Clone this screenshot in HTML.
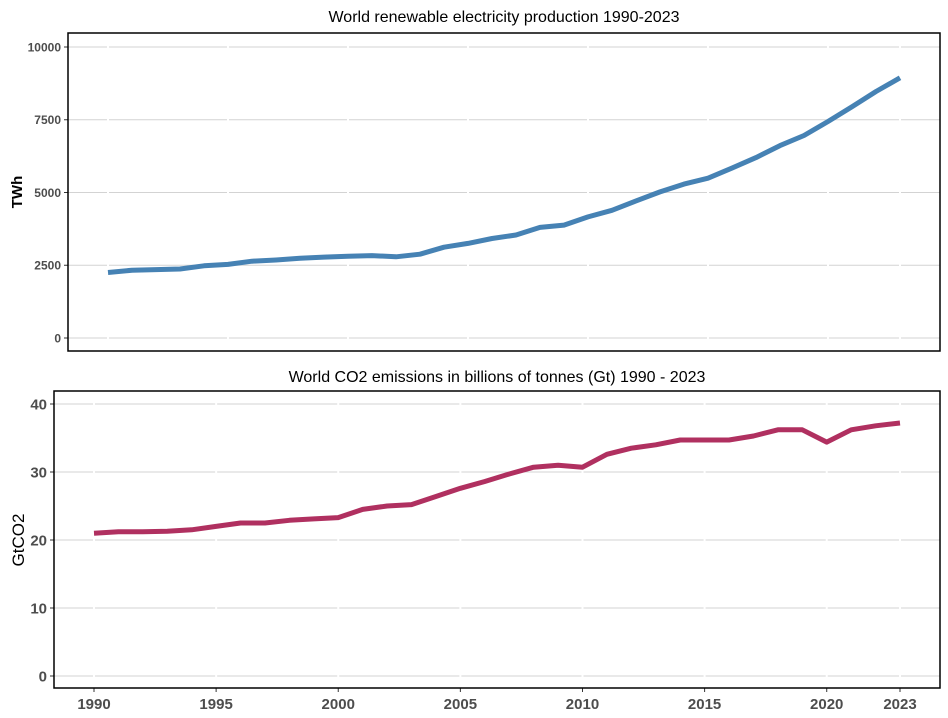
<!DOCTYPE html>
<html><head><meta charset="utf-8"><style>
body{margin:0;background:#fff}
svg{display:block;font-family:"Liberation Sans",Arial,sans-serif}
</style></head><body>
<svg id="chart" width="948" height="718" xmlns="http://www.w3.org/2000/svg">
<rect width="948" height="718" fill="#fff"/>
<text x="504" y="22" text-anchor="middle" font-size="16" fill="#000">World renewable electricity production 1990-2023</text>
<text x="497" y="382" text-anchor="middle" font-size="16" fill="#000">World CO2 emissions in billions of tonnes (Gt) 1990 - 2023</text>
<text transform="translate(22,192) rotate(-90)" text-anchor="middle" font-size="15" font-weight="bold" fill="#000">TWh</text>
<text transform="translate(24,540) rotate(-90)" text-anchor="middle" font-size="17" fill="#000">GtCO2</text>
<g id="top"></g><g id="bot"></g>
</svg>
<script>
const years=[1990,1991,1992,1993,1994,1995,1996,1997,1998,1999,2000,2001,2002,2003,2004,2005,2006,2007,2008,2009,2010,2011,2012,2013,2014,2015,2016,2017,2018,2019,2020,2021,2022,2023];
const renewables=[2250,2330,2350,2370,2480,2530,2640,2680,2740,2780,2810,2830,2790,2880,2880,3120,3250,3420,3540,3800,3880,4160,4390,4710,5020,5290,5490,5840,6200,6610,6960,7440,7950,8470,8940].filter((v,i)=>i!==14);
const co2=[21.0,21.2,21.2,21.3,21.5,22.0,22.5,22.5,22.9,23.1,23.3,24.5,25.0,25.2,26.4,27.6,28.6,29.7,30.7,31.0,30.7,32.6,33.5,34.0,34.7,34.7,34.7,35.3,36.2,36.2,34.4,36.2,36.8,37.2];
const topTicks=[0,2500,5000,7500,10000];
const botTicks=[0,10,20,30,40];
const xTicks=[1990,1995,2000,2005,2010,2015,2020,2023];
const NS="http://www.w3.org/2000/svg";
function mk(p,t,a){const e=document.createElementNS(NS,t);for(const k in a)e.setAttribute(k,a[k]);p.appendChild(e);return e;}
function panel(g,o){
  const x=v=>o.x0+(v-1990)*(o.x1-o.x0)/33;
  const y=v=>o.y0+(v-o.vmin)*(o.y1-o.y0)/(o.vmax-o.vmin);
  o.ticks.forEach(t=>{
    const l=mk(g,'line',{x1:o.L,x2:o.R,y1:y(t),y2:y(t),stroke:'#d3d3d3','stroke-width':1});
    
    
    const tk=mk(g,'line',{x1:o.L-4,x2:o.L,y1:y(t),y2:y(t),stroke:'#333','stroke-width':1});
    
    
    const tx=mk(g,'text',{x:o.L-7,y:y(t)+o.fs*0.36,'text-anchor':'end','font-size':o.fs,'font-weight':'bold',fill:'#4d4d4d'});
    tx.textContent=t;
    
    
  });
  xTicks.forEach(t=>{
    const l=mk(g,'line',{x1:x(t),x2:x(t),y1:o.T,y2:o.B,stroke:'#fff','stroke-width':2});
    
    
    if(o.xlabels){
      const tk=mk(g,'line',{x1:x(t),x2:x(t),y1:o.B,y2:o.B+4,stroke:'#333','stroke-width':1});
      
      
      const tx=mk(g,'text',{x:x(t),y:o.B+21,'text-anchor':'middle','font-size':15,'font-weight':'bold',fill:'#4d4d4d'});
      tx.textContent=t;
      
      
    }
  });
  const pts=o.data.map((v,i)=>x(years[i]).toFixed(1)+','+y(v).toFixed(1)).join(' ');
  const pl=mk(g,'polyline',{points:pts,fill:'none',stroke:o.color,'stroke-width':5,'stroke-linejoin':'round'});
  
  
  const r=mk(g,'rect',{x:o.L,y:o.T,width:o.R-o.L,height:o.B-o.T,fill:'none',stroke:'#000','stroke-width':1.5});
  
  
}
panel(document.getElementById('top'),{L:68,R:940,T:33,B:351,x0:108,x1:900,y0:338,y1:47,vmin:0,vmax:10000,ticks:topTicks,fs:12,xlabels:false,data:renewables,color:'#4682b4',name:'renewables-line'});
panel(document.getElementById('bot'),{L:54,R:940,T:391,B:688,x0:94,x1:900,y0:676,y1:404,vmin:0,vmax:40,ticks:botTicks,fs:15,xlabels:true,data:co2,color:'#b03060',name:'co2-line'});
</script>
</body></html>
